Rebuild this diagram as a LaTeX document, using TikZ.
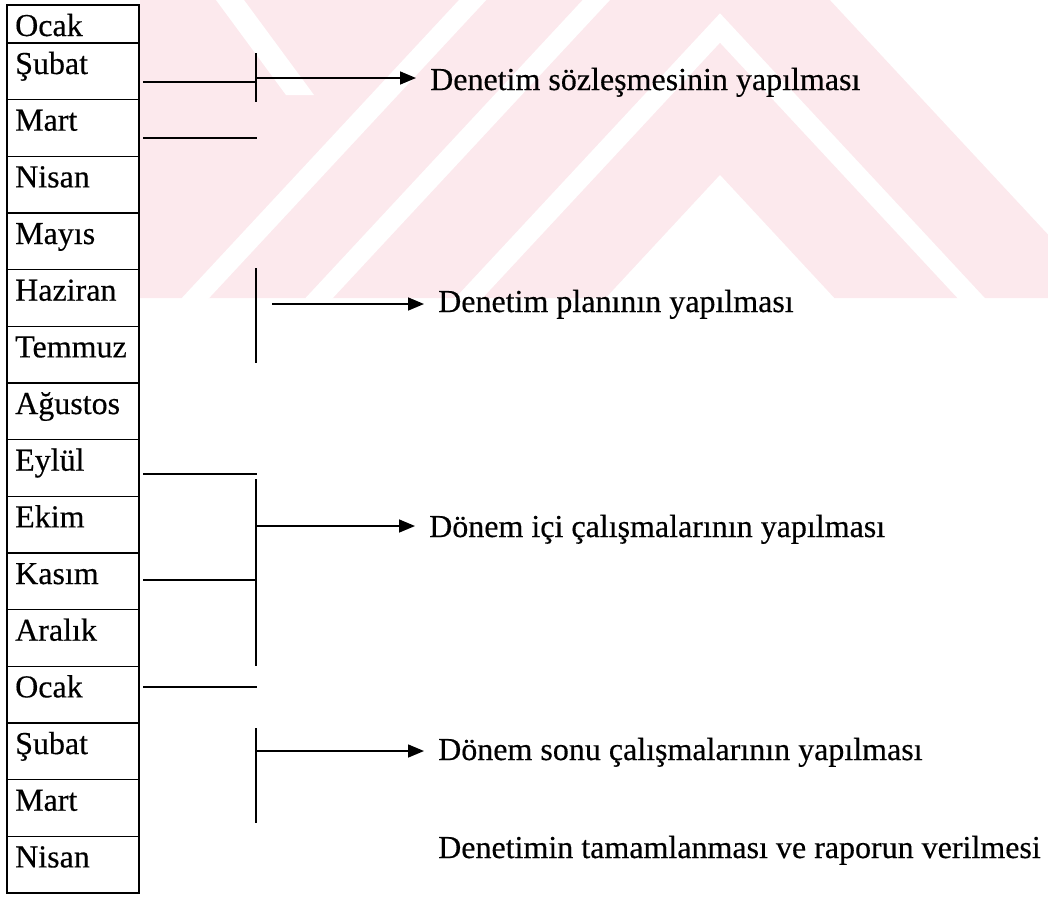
\documentclass[tikz,border=0pt]{standalone}
\usepackage{fontspec}
\setmainfont{Liberation Serif}[FakeBold=0.4]
\usetikzlibrary{arrows.meta}
\definecolor{wmpink}{RGB}{252,233,237}
\tikzset{
  cellbox/.style={draw, line width=1.4pt},
  month/.style={anchor=base west, inner sep=0pt},
  phase/.style={anchor=base west, inner sep=0pt},
  tick/.style={line width=1.6pt},
  gap/.style={white, line width=20pt, miter limit=20},
  arr/.style={line width=1.6pt, -{Triangle[length=16pt,width=13pt]}, shorten >=14pt}
}
\begin{document}
\begin{tikzpicture}[x=1pt, y=-1pt, font=\fontsize{32}{38}\selectfont\addfontfeature{FakeBold=0.4}]
            \useasboundingbox (0,0) rectangle (1048,908);
            % watermark in the background
            \begin{scope}
              \clip (140,0) rectangle (1048,298);
              \fill[wmpink] (140,0) -- (844,0) -- (1121,298) -- (140,298) -- cycle;
              \foreach \h in {28,-133,-266}
                \draw[gap] ({720-0.93*(360-\h)},360) -- (720,\h) -- ({720+0.93*(360-\h)},360);
              \fill[white] (720,175) -- (850,315) -- (590,315) -- cycle;
              \fill[white] (216,0) -- (244,0) -- (314,95) -- (286,95) -- cycle;
            \end{scope}
            % months
            \foreach \mon [count=\i] in {Ocak,Şubat,Mart,Nisan,Mayıs,Haziran,Temmuz,Ağustos,Eylül,Ekim,Kasım,Aralık,Ocak,Şubat,Mart,Nisan}{
              \pgfmathsetmacro\celltop{\i==1 ? 5 : 43+(\i-2)*56.67}
              \pgfmathsetmacro\cellbot{43+(\i-1)*56.67}
              \draw[cellbox] (7,\celltop) rectangle (139,\cellbot);
              \node[month] (m\i) at (15,\celltop+31) {\mon};
            }
            % phases
            \node[phase] (t1) at (430,90) {Denetim sözleşmesinin yapılması};
            \node[phase] (t2) at (438,312) {Denetim planının yapılması};
            \node[phase] (t3) at (429,537) {Dönem içi çalışmalarının yapılması};
            \node[phase] (t4) at (438,760) {Dönem sonu çalışmalarının yapılması};
            \node[phase] (t5) at (438,858) {Denetimin tamamlanması ve raporun verilmesi};
            % brackets
            \coordinate (b1t) at (256,53);  \coordinate (b1b) at (256,102);
            \coordinate (b2t) at (256,268); \coordinate (b2b) at (256,363);
            \coordinate (b3t) at (256,479); \coordinate (b3b) at (256,666);
            \coordinate (b4t) at (256,728); \coordinate (b4b) at (256,823);
            \foreach \b in {1,2,3,4}
              \draw[tick] (b\b t) -- (b\b b);
            % month marks
            \foreach \y in {82,138,474,580,687}
              \draw[tick] (143,\y) -- (257,\y);
            % arrows
            \coordinate (a1) at (256,78);
            \coordinate (a2) at (272,304);
            \coordinate (a3) at (256,526);
            \coordinate (a4) at (256,751);
            \draw[arr] (a1) -- (a1 -| t1.west);
            \draw[arr] (a2) -- (a2 -| t2.west);
            \draw[arr] (a3) -- (a3 -| t3.west);
            \draw[arr] (a4) -- (a4 -| t4.west);
\end{tikzpicture}
\end{document}
